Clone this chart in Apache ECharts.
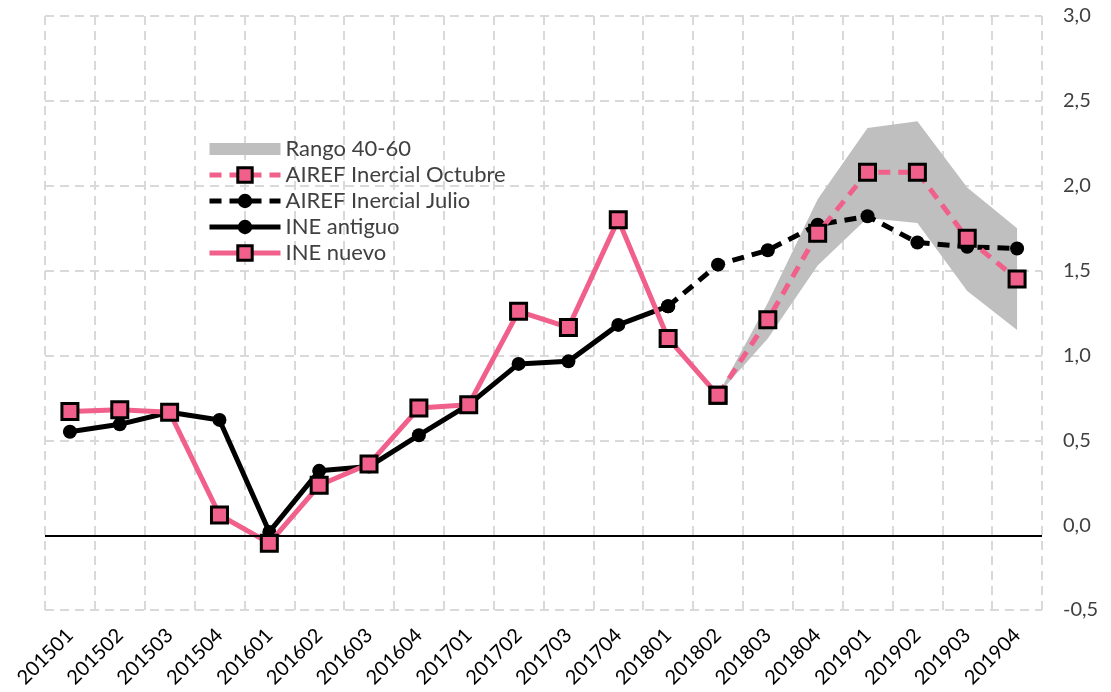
<!DOCTYPE html>
<html>
<head>
    <meta charset="UTF-8">
    <script type="text/javascript" src="https://cdn.jsdelivr.net/npm/echarts@6/dist/echarts.min.js"></script>
</head>
<body style="margin: 0;padding: 0;background:#fff;">
<div id="main" style="width: 1111px;height:692px;"></div>
<script>
    var categories = ['201501', '201502', '201503', '201504', '201601', '201602', '201603', '201604',
        '201701', '201702', '201703', '201704', '201801', '201802', '201803', '201804',
        '201901', '201902', '201903', '201904']
    var ineNuevo = [0.67, 0.68, 0.665, 0.06, -0.106, 0.235, 0.36, 0.69, 0.71, 1.26, 1.165, 1.80, 1.10, 0.765,
        null, null, null, null, null, null]
    var ineAntiguo = [0.55, 0.594, 0.665, 0.62, -0.04, 0.32, 0.345, 0.53, 0.71, 0.95, 0.965, 1.18, 1.29,
        null, null, null, null, null, null, null]
    var airefJulio = [null, null, null, null, null, null, null, null, null, null, null, null, 1.29,
        1.535, 1.62, 1.77, 1.82, 1.665, 1.64, 1.63]
    var airefOctubre = [null, null, null, null, null, null, null, null, null, null, null, null, null,
        0.765, 1.21, 1.72, 2.08, 2.08, 1.69, 1.45]
    var rangoInf = [null, null, null, null, null, null, null, null, null, null, null, null, null,
        0.77, 1.10, 1.53, 1.81, 1.78, 1.38, 1.15]
    var rangoSup = [null, null, null, null, null, null, null, null, null, null, null, null, null,
        0.77, 1.31, 1.92, 2.34, 2.38, 1.99, 1.75]
    var ejeCero = -0.06   // la linea del eje esta un poco por debajo del 0

    var pink = '#f0608a'
    var font = 'Lato, "Open Sans", sans-serif'

    // ancho de la banda (superior - inferior) para apilar
    var rangoAncho = rangoSup.map(function (v, i) {
        return v === null ? null : +(v - rangoInf[i]).toFixed(3)
    })

    var chart = echarts.init(document.getElementById('main'));
    var option = {
        animation: false,
        grid: {left: 45, right: 69, top: 16, bottom: 82, containLabel: false},
        legend: {
            orient: 'vertical',
            left: 202,
            top: 133,
            itemWidth: 71,
            itemHeight: 18,
            itemGap: 4,
            lineStyle: {width: 'inherit'},
            itemStyle: {borderWidth: 'inherit'},
            textStyle: {fontFamily: font, fontSize: 22, lineHeight: 22, color: '#404040'},
            data: [
                {
                    name: 'Rango 40-60',
                    // rectangulo gris mas bajo que el alto del item
                    icon: 'path://M0,0L0.01,0L0.01,0.01Z M0,3L71,3L71,15L0,15Z M0,18L0.01,18L0.01,17.99Z',
                    itemStyle: {color: '#bfbfbf', borderWidth: 0}
                },
                'AIREF Inercial Octubre',
                'AIREF Inercial Julio',
                'INE antiguo',
                'INE nuevo'
            ]
        },
        xAxis: {
            type: 'category',
            data: categories,
            boundaryGap: true,
            axisLine: {show: false},
            axisTick: {show: false},
            axisLabel: {rotate: 45, fontFamily: font, fontSize: 20, color: '#000', margin: 22, interval: 0},
            splitLine: {show: true, lineStyle: {color: '#d9d9d9', width: 2, type: [9, 6]}}
        },
        yAxis: {
            type: 'value',
            position: 'right',
            min: -0.5,
            max: 3,
            interval: 0.5,
            axisLine: {show: false},
            axisTick: {show: false},
            axisLabel: {
                fontFamily: font, fontSize: 20, color: '#404040', margin: 21,
                formatter: function (v) {
                    return v.toFixed(1).replace('.', ',')
                }
            },
            splitLine: {
                show: true,
                lineStyle: {
                    color: ['#d9d9d9', 'rgba(0,0,0,0)', '#d9d9d9', '#d9d9d9', '#d9d9d9', '#d9d9d9', '#d9d9d9', '#d9d9d9'],
                    width: 2, type: [9, 6]
                }
            }
        },
        series: [
            {
                name: 'inf',
                type: 'line',
                data: rangoInf,
                stack: 'rango',
                symbol: 'none',
                lineStyle: {width: 0},
                silent: true,
                z: 1,
                markLine: {
                    silent: true,
                    symbol: 'none',
                    label: {show: false},
                    lineStyle: {color: '#000', width: 2, type: 'solid'},
                    data: [{yAxis: ejeCero}]
                }
            },
            {
                name: 'Rango 40-60',
                type: 'line',
                data: rangoAncho,
                stack: 'rango',
                symbol: 'none',
                lineStyle: {width: 0},
                areaStyle: {color: '#bfbfbf', opacity: 1},
                itemStyle: {color: '#bfbfbf'},
                silent: true,
                z: 1
            },
            {
                name: 'AIREF Inercial Julio',
                type: 'line',
                data: airefJulio,
                symbol: 'circle',
                symbolSize: 14,
                itemStyle: {color: '#000'},
                lineStyle: {color: '#000', width: 5, type: [12, 8]},
                z: 3
            },
            {
                name: 'INE antiguo',
                type: 'line',
                data: ineAntiguo,
                symbol: 'circle',
                symbolSize: 14,
                itemStyle: {color: '#000'},
                lineStyle: {color: '#000', width: 5},
                z: 3
            },
            {
                name: 'INE nuevo',
                type: 'line',
                data: ineNuevo,
                symbol: 'rect',
                symbolSize: 16,
                itemStyle: {color: pink, borderColor: '#000', borderWidth: 3},
                lineStyle: {color: pink, width: 5},
                z: 4
            },
            {
                name: 'AIREF Inercial Octubre',
                type: 'line',
                data: airefOctubre,
                symbol: 'rect',
                symbolSize: 16,
                itemStyle: {color: pink, borderColor: '#000', borderWidth: 3},
                lineStyle: {color: pink, width: 5, type: [12, 8]},
                z: 4
            }
        ]
    };
    chart.setOption(option);
</script>
</body>
</html>
